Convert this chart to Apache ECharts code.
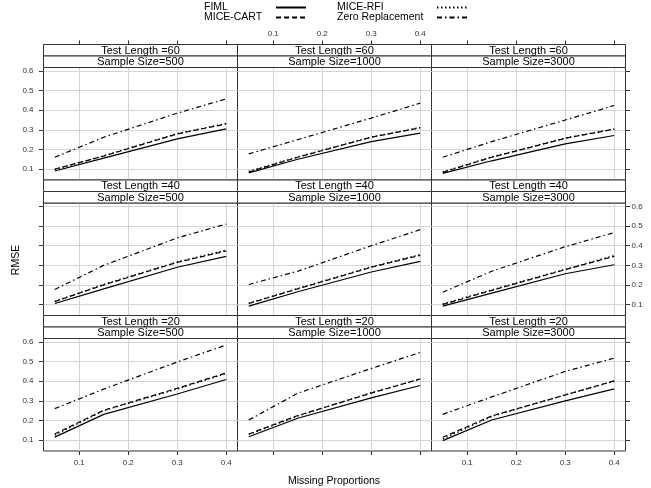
<!DOCTYPE html>
<html><head><meta charset="utf-8">
<script src="https://cdn.jsdelivr.net/npm/echarts@6/dist/echarts.min.js"></script>
<style>html,body{margin:0;padding:0;background:#fff}#c{width:651px;height:488px}</style>
</head><body><div id="c"></div>
<script>
// ---- data ----
const missing = [0.05, 0.15, 0.3, 0.4];
const testLengths = [60, 40, 20];
const sampleSizes = [500, 1000, 3000];
const methods = ['FIML', 'MICE-CART', 'MICE-RFI', 'Zero Replacement'];
const xTicks = [0.1, 0.2, 0.3, 0.4];
const yTicks = [0.1, 0.2, 0.3, 0.4, 0.5, 0.6];
// each array: rows = sample size 500, 1000, 3000; columns = missing proportions
const fiml60 = [[0.090, 0.156, 0.254, 0.305], [0.080, 0.150, 0.240, 0.283], [0.078, 0.142, 0.228, 0.271]];
const cart60 = [[0.100, 0.166, 0.279, 0.330], [0.085, 0.160, 0.262, 0.310], [0.083, 0.160, 0.257, 0.303]];
const rfi60  = [[0.097, 0.168, 0.281, 0.333], [0.088, 0.162, 0.263, 0.312], [0.085, 0.162, 0.258, 0.305]];
const zero60 = [[0.160, 0.262, 0.385, 0.458], [0.177, 0.250, 0.360, 0.436], [0.160, 0.240, 0.350, 0.424]];
const fiml40 = [[0.105, 0.180, 0.290, 0.346], [0.092, 0.165, 0.266, 0.320], [0.092, 0.158, 0.257, 0.303]];
const cart40 = [[0.115, 0.200, 0.315, 0.373], [0.105, 0.180, 0.290, 0.351], [0.100, 0.172, 0.278, 0.346]];
const rfi40  = [[0.117, 0.203, 0.317, 0.378], [0.107, 0.182, 0.292, 0.355], [0.103, 0.175, 0.280, 0.350]];
const zero40 = [[0.177, 0.300, 0.440, 0.511], [0.202, 0.270, 0.400, 0.482], [0.163, 0.270, 0.395, 0.467]];
const fiml20 = [[0.115, 0.231, 0.335, 0.409], [0.117, 0.211, 0.315, 0.378], [0.097, 0.202, 0.300, 0.361]];
const cart20 = [[0.131, 0.252, 0.364, 0.442], [0.131, 0.225, 0.339, 0.412], [0.114, 0.223, 0.330, 0.402]];
const rfi20  = [[0.125, 0.250, 0.360, 0.440], [0.128, 0.222, 0.342, 0.410], [0.105, 0.220, 0.330, 0.400]];
const zero20 = [[0.260, 0.360, 0.498, 0.585], [0.202, 0.339, 0.465, 0.547], [0.231, 0.320, 0.450, 0.518]];

// table built from the arrays above: method -> [TL60, TL40, TL20]
const table = {
  'FIML': [fiml60, fiml40, fiml20],
  'MICE-CART': [cart60, cart40, cart20],
  'MICE-RFI': [rfi60, rfi40, rfi20],
  'Zero Replacement': [zero60, zero40, zero20]
};

// ---- layout / style ----
const FONT = 'Liberation Sans, Arial, sans-serif';
const L = 43.5, W = 194, T0 = 44.5, PH = 135.5, SH = 11.5;
const XMIN = 0.027, XMAX = 0.423, YMIN = 0.044, YMAX = 0.618;
const BORDER = '#333';
const lineTypes = {
  'FIML': 'solid',
  'MICE-CART': [5, 3],
  'MICE-RFI': [1.5, 2.5],
  'Zero Replacement': [5, 3, 1.5, 3]
};

const grids = [], xAxes = [], yAxes = [], series = [], graphics = [];
for (let r = 0; r < 3; r++) {
  for (let c = 0; c < 3; c++) {
    const i = r * 3 + c;
    const left = L + c * W, stripTop = T0 + r * PH;
    grids.push({left: left, top: stripTop + 2 * SH, width: W, height: PH - 2 * SH,
      show: true, borderColor: BORDER, borderWidth: 1, backgroundColor: 'transparent'});
    xAxes.push({gridIndex: i, type: 'value', position: 'bottom', min: XMIN, max: XMAX,
      axisLine: {show: false},
      axisTick: {show: r === 2, inside: false, length: 4, customValues: xTicks, lineStyle: {color: BORDER}},
      axisLabel: {show: r === 2 && c !== 1, customValues: xTicks, margin: 8, fontSize: 8, color: '#333', fontFamily: FONT},
      splitLine: {show: true, lineStyle: {color: '#d4d4d4', width: 1}}});
    yAxes.push({gridIndex: i, type: 'value', position: 'left', min: YMIN, max: YMAX,
      axisLine: {show: false},
      axisTick: {show: c === 0, inside: false, length: 4.5, customValues: yTicks, lineStyle: {color: BORDER}},
      axisLabel: {show: c === 0 && r !== 1, customValues: yTicks, margin: 10, fontSize: 8, color: '#333', fontFamily: FONT},
      splitLine: {show: true, lineStyle: {color: '#d4d4d4', width: 1}}});
    methods.forEach(m => {
      const vals = table[m][r][c];
      series.push({type: 'line', name: m, xAxisIndex: i, yAxisIndex: i,
        data: missing.map((x, k) => [x, vals[k]]),
        symbol: 'none', showSymbol: false, silent: true, animation: false,
        lineStyle: {color: '#000', width: 1.2, type: lineTypes[m]},
        itemStyle: {color: '#000'}});
    });
    // strips
    graphics.push({type: 'rect', shape: {x: left, y: stripTop, width: W, height: SH},
      style: {fill: '#fff', stroke: BORDER, lineWidth: 1}, z: 5});
    graphics.push({type: 'rect', shape: {x: left, y: stripTop + SH, width: W, height: SH},
      style: {fill: '#fff', stroke: BORDER, lineWidth: 1}, z: 5});
    graphics.push({type: 'text', x: left + W / 2, y: stripTop + SH / 2 + 0.5, z: 6,
      style: {text: 'Test Length =' + testLengths[r], fontSize: 11, fill: '#000', fontFamily: FONT, align: 'center', verticalAlign: 'middle'}});
    graphics.push({type: 'text', x: left + W / 2, y: stripTop + SH * 1.5 + 0.5, z: 6,
      style: {text: 'Sample Size=' + sampleSizes[c], fontSize: 11, fill: '#000', fontFamily: FONT, align: 'center', verticalAlign: 'middle'}});
  }
}
// top axes (row 0) and right axes (col 2)
for (let c = 0; c < 3; c++) {
  xAxes.push({gridIndex: c, type: 'value', position: 'top', offset: 2 * SH, min: XMIN, max: XMAX,
    axisLine: {show: false},
    axisTick: {show: true, inside: false, length: 4, customValues: xTicks, lineStyle: {color: BORDER}},
    axisLabel: {show: c === 1, customValues: xTicks, margin: 7, fontSize: 8, color: '#333', fontFamily: FONT},
    splitLine: {show: false}});
}
for (let r = 0; r < 3; r++) {
  yAxes.push({gridIndex: r * 3 + 2, type: 'value', position: 'right', min: YMIN, max: YMAX,
    axisLine: {show: false},
    axisTick: {show: true, inside: false, length: 4.5, customValues: yTicks, lineStyle: {color: BORDER}},
    axisLabel: {show: r === 1, customValues: yTicks, margin: 6, fontSize: 8, color: '#333', fontFamily: FONT},
    splitLine: {show: false}});
}
graphics.push({type: 'text', x: 16, y: 260, rotation: Math.PI / 2,
  style: {text: 'RMSE', fontSize: 10.5, fill: '#000', fontFamily: FONT, align: 'center', verticalAlign: 'middle'}});
graphics.push({type: 'text', x: 334, y: 481,
  style: {text: 'Missing Proportions', fontSize: 10.5, fill: '#000', fontFamily: FONT, align: 'center', verticalAlign: 'middle'}});

function makeLegend(left, names, textW) {
  return {orient: 'vertical', align: 'right', top: 2, left: left, padding: 0,
    itemWidth: 30, itemHeight: 8, itemGap: -1, selectedMode: false, data: names,
    itemStyle: {opacity: 0},
    formatter: '{t|{name}}',
    textStyle: {fontSize: 10.5, color: '#000', fontFamily: FONT,
      rich: {t: {width: textW, align: 'left', fontSize: 10.5, lineHeight: 9, fontFamily: FONT, color: '#000'}}}};
}
const option = {
  animation: false,
  backgroundColor: '#fff',
  legend: [
    makeLegend(204, ['FIML', 'MICE-CART'], 67),
    makeLegend(337, ['MICE-RFI', 'Zero Replacement'], 95)
  ],
  grid: grids, xAxis: xAxes, yAxis: yAxes, series: series, graphic: graphics
};
const chart = echarts.init(document.getElementById('c'), null, {renderer: 'canvas'});
chart.setOption(option);
</script></body></html>
